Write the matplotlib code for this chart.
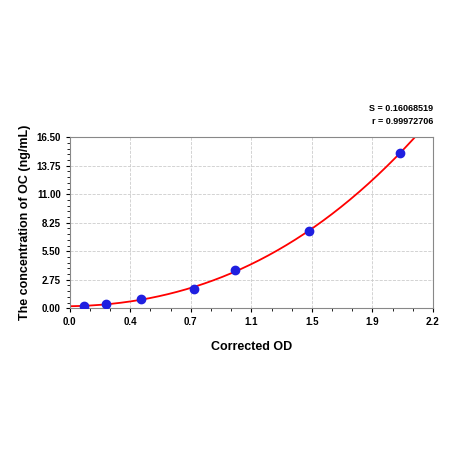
import numpy as np
import matplotlib
matplotlib.use("Agg")
import matplotlib.pyplot as plt
from matplotlib.ticker import AutoMinorLocator

od = [0.085, 0.22, 0.43, 0.75, 1.0, 1.45, 2.0]
conc = [0.2, 0.42, 0.88, 1.82, 3.73, 7.44, 14.97]
xticks = np.linspace(0, 2.2, 7)
xlabels = ["0.0", "0.4", "0.7", "1.1", "1.5", "1.9", "2.2"]
yticks = np.linspace(0, 16.5, 7)
ylabels = ["0.00", "2.75", "5.50", "8.25", "11.00", "13.75", "16.50"]

plt.rcParams['font.family'] = ['Liberation Sans', 'DejaVu Sans']
fig = plt.figure(figsize=(4.5, 4.5), dpi=100)
ax = fig.add_axes([0.155, 0.315, 0.807, 0.38])
coef = np.polyfit(od, conc, 3)
xs = np.linspace(0, 2.2, 400)
ys = np.polyval(coef, xs)
m = ys <= 16.6
ax.plot(xs[m], ys[m], color='red', lw=1.3, zorder=2)
ax.scatter(od, conc, s=36, color='#1f1fe0', zorder=3)
ax.set_xlim(0, 2.2); ax.set_ylim(0, 16.5)
ax.set_xticks(xticks); ax.set_xticklabels(xlabels)
ax.set_yticks(yticks); ax.set_yticklabels(ylabels)
ax.xaxis.set_minor_locator(AutoMinorLocator(3))
ax.yaxis.set_minor_locator(AutoMinorLocator(5))
ax.grid(True, which='major', color='#cccccc', lw=0.6, ls='--')
ax.tick_params(labelsize=7, direction='out', length=3)
for l in ax.get_xticklabels() + ax.get_yticklabels():
    l.set_fontweight('bold')
for s in ax.spines.values():
    s.set_color('#888888')
ax.set_xlabel('Corrected OD', fontsize=9, fontweight='bold', labelpad=10)
ax.set_ylabel('The concentration of OC (ng/mL)', fontsize=9, fontweight='bold')
fig.text(0.962, 0.745, 'S = 0.16068519\nr = 0.99972706', ha='right', va='center',
         fontsize=6.5, fontweight='bold', linespacing=1.5)
fig.savefig('out.png', dpi=100)
